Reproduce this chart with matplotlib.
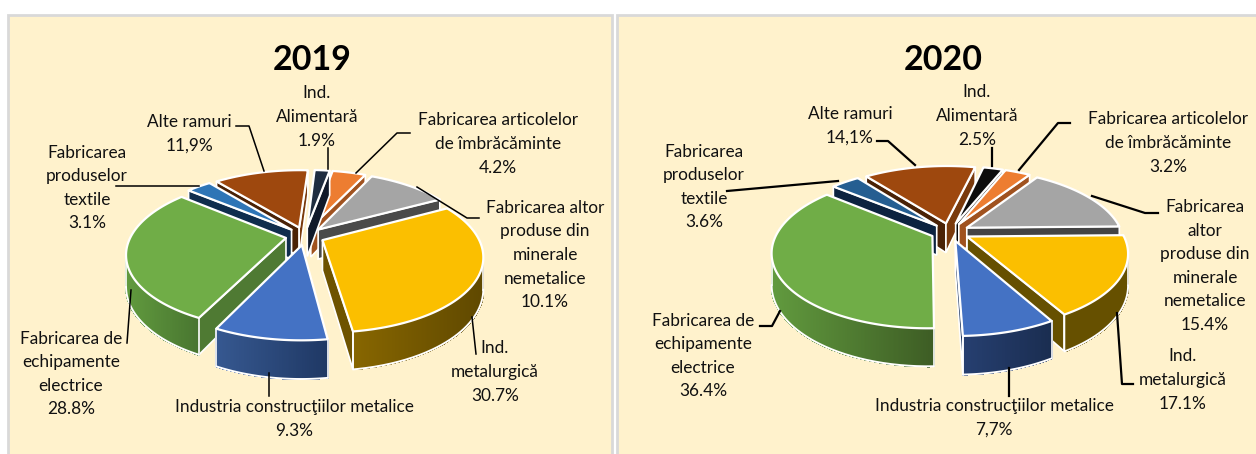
import numpy as np
import matplotlib
matplotlib.use("Agg")
import matplotlib.pyplot as plt
from matplotlib.patches import Polygon, Rectangle
from matplotlib.colors import to_rgb

# ---- data ----
categories = ["Ind. Alimentară", "Fabricarea articolelor de îmbrăcăminte",
              "Fabricarea altor produse din minerale nemetalice", "Ind. metalurgică",
              "Industria construcţiilor metalice", "Fabricarea de echipamente electrice",
              "Fabricarea produselor textile", "Alte ramuri"]
values_2019 = [1.9, 4.2, 10.1, 30.7, 9.3, 28.8, 3.1, 11.9]
values_2020 = [2.5, 3.2, 15.4, 17.1, 7.7, 36.4, 3.6, 14.1]
labels_2019 = ["Ind.\nAlimentară\n1.9%", "Fabricarea articolelor\nde îmbrăcăminte\n4.2%",
               "Fabricarea altor\nproduse din\nminerale\nnemetalice\n10.1%", "Ind.\nmetalurgică\n30.7%",
               "Industria construcţiilor metalice\n9.3%", "Fabricarea de\nechipamente\nelectrice\n28.8%",
               "Fabricarea\nproduselor\ntextile\n3.1%", "Alte ramuri\n11,9%"]
labels_2020 = ["Ind.\nAlimentară\n2.5%", "Fabricarea articolelor\nde îmbrăcăminte\n3.2%",
               "Fabricarea\naltor\nproduse din\nminerale\nnemetalice\n15.4%", "Ind.\nmetalurgică\n17.1%",
               "Industria construcţiilor metalice\n7,7%", "Fabricarea de\nechipamente\nelectrice\n36.4%",
               "Fabricarea\nproduselor\ntextile\n3.6%", "Alte ramuri\n14,1%"]

# ---- styles and layout (pixels of the 1256x454 canvas) ----
top_2019 = ["#1F2D40", "#ED7D31", "#A5A5A5", "#FBBF00", "#4472C4", "#70AD47", "#2E75B6", "#9E480E"]
top_2020 = ["#0D0D0D", "#ED7D31", "#A5A5A5", "#FBBF00", "#4472C4", "#70AD47", "#255E91", "#9E480E"]
side_2019 = ["#10192A", "#A0521F", "#4A4A4A", "#6E5300", "#4E7A32", "#4F7A33", "#0F2D4D", "#4A2206"]
side_2020 = ["#050505", "#A0521F", "#444444", "#665000", "#1F3864", "#3D5C24", "#0C2340", "#4A2206"]
endcut_2019 = ["#10192A", "#A0521F", "#4A4A4A", "#6E5300", "#1F3864", "#4F7A33", "#0F2D4D", "#7A3A0C"]
endcut_2020 = ["#050505", "#A0521F", "#444444", "#665000", "#1F3864", "#3D5C24", "#0C2340", "#7A3A0C"]
wall_2019 = [("#10192A", "#10192A"), ("#A0521F", "#A0521F"), ("#6E6E6E", "#6E6E6E"), ("#876600", "#5F4800"),
             ("#365890", "#1F3864"), ("#619A3E", "#487530"), ("#0F2D4D", "#0F2D4D"), ("#6E3309", "#6E3309")]
wall_2020 = [("#050505", "#050505"), ("#A0521F", "#A0521F"), ("#6E6E6E", "#6E6E6E"), ("#665000", "#665000"),
             ("#263F70", "#1A2D50"), ("#619A3E", "#3D5C24"), ("#0C2340", "#0C2340"), ("#6E3309", "#6E3309")]

label_xy_2019 = [(317, 117), (498, 144), (545, 255), (495, 372), (294, 419), (71, 374), (87, 188), (189, 134)]
label_xy_2020 = [(977, 116), (1168, 143), (1205, 266), (1183, 380), (994, 418), (703, 356), (704, 187), (850, 126)]

leaders_2019 = [[(328, 148), (328, 169)], [(410, 133), (397, 133), (356, 173)], [(479, 218), (467, 218), (417, 187)],
                [(472, 317), (476, 354)], [(269, 373), (269, 396)], [(131, 290), (127, 343)],
                [(116, 186), (199, 186)], [(236, 126), (249, 126), (264, 171)]]
leaders_2020 = [[(992, 148), (992, 166)], [(1070, 123), (1058, 123), (1019, 170)], [(1158, 213), (1145, 213), (1092, 196)],
                [(1117, 313), (1122, 384), (1133, 384)], [(1009, 368), (1009, 396)], [(760, 326), (772, 326), (780, 311)],
                [(727, 191), (838, 181)], [(877, 141), (888, 141), (915, 165)]]

FONT = "Lato"
SIZE = 12.4
GAP = 1.58


def project(x, y, c, R, Ry, k):
    s = 1.0 / (1.0 + k * y)
    return c[0] + R * x * s, c[1] - Ry * y * s, s


def draw_pie(ax, values, tops, sides, endcuts, walls, c, start, R=155, Ry=72, k=0.2, h=30, expl=0.125):
    v = np.asarray(values, float)
    edges = start + 360 * np.concatenate([[0], np.cumsum(v)]) / v.sum()
    items = []
    for i in range(len(v)):
        a = np.radians(np.linspace(edges[i], edges[i + 1], max(int(edges[i + 1] - edges[i]) * 2, 6)))
        mid = np.radians((edges[i] + edges[i + 1]) / 2)
        ox, oy = expl * np.sin(mid), expl * np.cos(mid)
        xs = np.r_[ox, ox + np.sin(a)]
        ys = np.r_[oy, oy + np.cos(a)]
        px, py, ps = project(xs, ys, c, R, Ry, k)
        items.append((py.mean(), i, px, py, ps))
    items.sort(key=lambda t: t[0])
    for _, i, px, py, ps in items:
        n = len(px)
        xmin, xmax = px[1:].min(), px[1:].max()
        c0, c1 = np.array(to_rgb(walls[i][0])), np.array(to_rgb(walls[i][1]))
        outline = []
        for j in range(n):
            q = (j + 1) % n
            if px[q] - px[j] >= 0:
                continue
            quad = [(px[j], py[j]), (px[q], py[q]), (px[q], py[q] + h * ps[q]), (px[j], py[j] + h * ps[j])]
            if j == 0 or q == 0:
                col = endcuts[i] if q == 0 else sides[i]
                ax.add_patch(Polygon(quad, closed=True, fc=col, ec="white", lw=1.2, zorder=2))
            else:
                t = ((px[j] + px[q]) / 2 - xmin) / max(xmax - xmin, 1)
                col = c0 + (c1 - c0) * t
                ax.add_patch(Polygon(quad, closed=True, fc=col, ec=col, lw=0.8, antialiased=False, zorder=2))
                outline.append(j)
        if outline:
            seq = outline + [outline[-1] + 1]
            seq = [s % n for s in seq]
            ax.plot(px[seq], py[seq] + h * ps[seq], color="white", lw=1.4, zorder=2, solid_capstyle="round")
            for e in (seq[0], seq[-1]):
                ax.plot([px[e], px[e]], [py[e], py[e] + h * ps[e]], color="white", lw=1.2, zorder=2)
        ax.add_patch(Polygon(np.c_[px, py], closed=True, fc=tops[i], ec="white", lw=1.6, zorder=2,
                             joinstyle="round"))


fig = plt.figure(figsize=(12.56, 4.54), dpi=100, facecolor="white")
ax = fig.add_axes([0, 0, 1, 1])
ax.set_xlim(0, 1256)
ax.set_ylim(454, 0)
ax.axis("off")

for x0, x1 in [(8, 612), (617, 1258)]:
    ax.add_patch(Rectangle((x0, 14.5), x1 - x0, 445, fc="#FFF2CC", ec="#D9D9D9", lw=2, zorder=1))

panels = [
    ("2019", (312, 60), values_2019, labels_2019, top_2019, side_2019, endcut_2019, wall_2019, (305, 236), 3.5,
     label_xy_2019, leaders_2019, 1.1),
    ("2020", (943, 60), values_2020, labels_2020, top_2020, side_2020, endcut_2020, wall_2020, (950, 232), 13,
     label_xy_2020, leaders_2020, 1.6),
]
for title, txy, vals, labs, tops, sides, ends, walls, c, start, lxy, leads, llw in panels:
    ax.text(*txy, title, fontsize=24.5, fontweight="bold", family=FONT, ha="center", va="center", color="black", zorder=4)
    draw_pie(ax, vals, tops, sides, ends, walls, c, start)
    for lab, xy, ld in zip(labs, lxy, leads):
        ax.text(*xy, lab, fontsize=SIZE, family=FONT, ha="center", va="center", color="#111111",
                linespacing=GAP, zorder=4)
        ax.plot(*zip(*ld), color="black", lw=llw, zorder=3)

fig.savefig("out.png", dpi=100)
